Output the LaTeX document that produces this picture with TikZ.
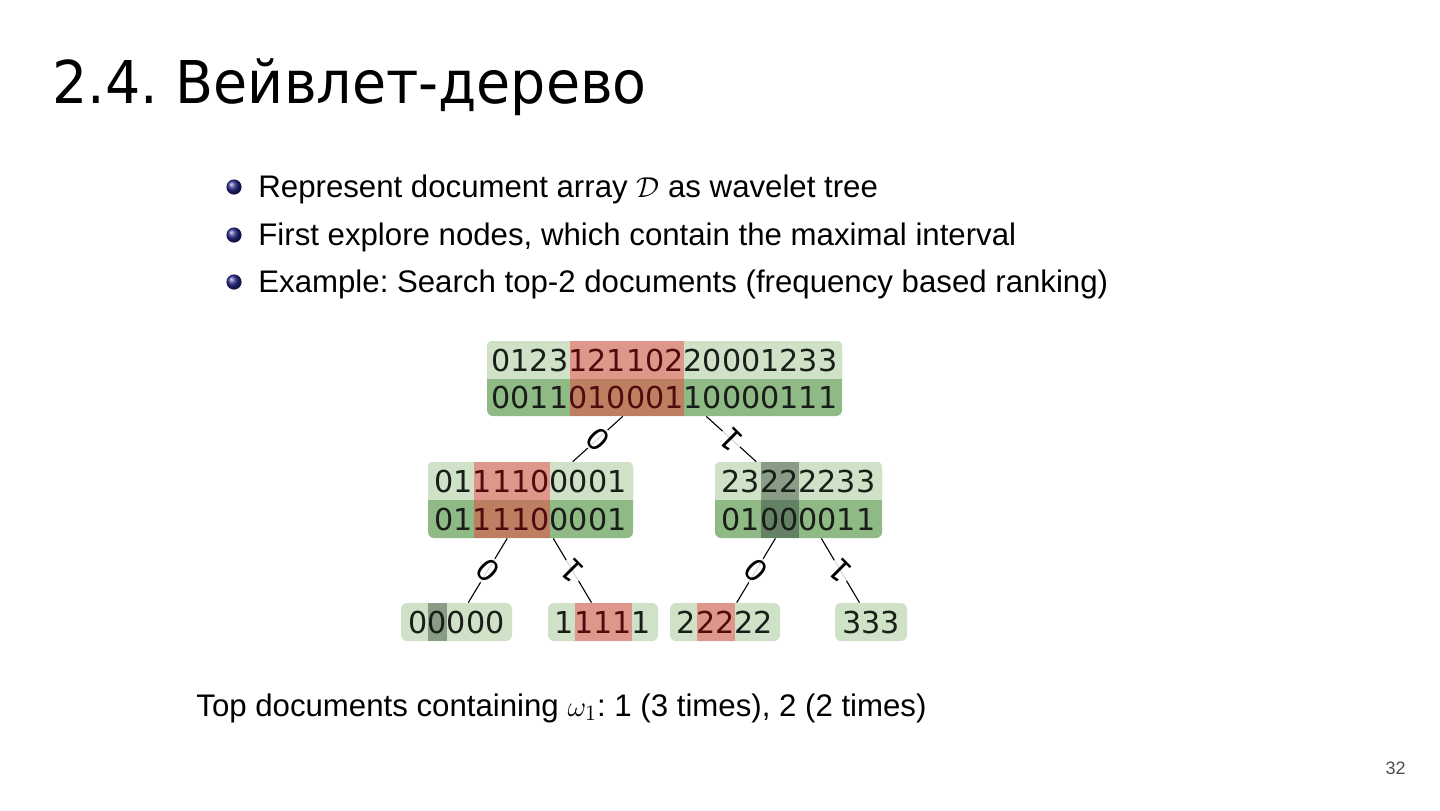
\documentclass[tikz,border=0pt]{standalone}
\usepackage{fontspec}
\setmainfont{Liberation Sans}
\newfontfamily\titlefont{DejaVu Sans}
\newfontfamily\digitfont{DejaVu Sans}
\usepackage{xcolor}
\usepackage{tikz}

\definecolor{lg}{RGB}{207,226,200}
\definecolor{dg}{RGB}{143,186,133}
\definecolor{rtop}{RGB}{223,150,139}
\definecolor{rbot}{RGB}{188,127,98}
\definecolor{gtop}{RGB}{136,156,134}
\definecolor{gbot}{RGB}{101,129,99}
\definecolor{ink}{RGB}{25,30,25}
\definecolor{dred}{RGB}{80,12,12}
\definecolor{bul}{RGB}{40,40,140}
\newcommand{\redd}[1]{\textcolor{dred}{#1}}
\frenchspacing

\begin{document}
\begin{tikzpicture}[x=0.5pt, y=-0.5pt,
    box/.style={rectangle, rounded corners=3pt, inner sep=0pt, fill=dg},
    leaf/.style={box, fill=lg, minimum height=19pt},
    digits/.style={inner sep=0pt, text=ink, font=\digitfont\fontsize{15.1}{18}\selectfont},
    bit/.style={rotate=135, fill=white, fill opacity=0.85, text opacity=1, inner sep=1pt, font=\digitfont\fontsize{15}{17}\selectfont},
    edge/.style={black, line width=0.55pt},
    bulletball/.style={circle, shading=ball, ball color=bul, minimum size=7.6pt, inner sep=0pt},
    bodytext/.style={anchor=base west, inner sep=0pt, font=\fontsize{15.6}{18}\selectfont}]
    \useasboundingbox (0,0) rectangle (1440,810);

    % Titel
    \node[anchor=base west, inner sep=0pt, font=\titlefont\fontsize{29.5}{34}\selectfont] (title) at (52,103) {\scalebox{0.94}[1]{2.4. Вейвлет-дерево}};

    % Aufzaehlung
    \node[bulletball] (d1) at (234,187) {};
    \node[bulletball] (d2) at (234,235) {};
    \node[bulletball] (d3) at (234,282) {};
    \node[bodytext] (t1) at (258,197) {Represent document array $\mathcal{D}$ as wavelet tree};
    \node[bodytext] (t2) at (258,245) {First explore nodes, which contain the maximal interval};
    \node[bodytext] (t3) at (258,292) {Example: Search top-2 documents (frequency based ranking)};

    % Baumknoten
    \node[box, minimum width=177.5pt, minimum height=37.5pt] (root) at (664.5,378.5) {};
    \node[box, minimum width=102.5pt, minimum height=38pt] (lft) at (530.5,500) {};
    \node[box, minimum width=83.5pt, minimum height=38pt] (rgt) at (798.5,500) {};
    \node[leaf, minimum width=55.5pt] (l00) at (456.5,622) {};
    \node[leaf, minimum width=55pt] (l01) at (603,622) {};
    \node[leaf, minimum width=55pt] (l10) at (725,622) {};
    \node[leaf, minimum width=36pt] (l11) at (871,622) {};

    % obere Zeile hell, Intervalle markiert
    \begin{scope}
        \clip[rounded corners=3pt] (root.north west) rectangle (root.south east);
        \fill[lg] (root.north west) rectangle (root.east);
        \fill[rtop] (569.5,341) rectangle (683.5,378.5);
        \fill[rbot] (569.5,378.5) rectangle (683.5,416);
    \end{scope}
    \begin{scope}
        \clip[rounded corners=3pt] (lft.north west) rectangle (lft.south east);
        \fill[lg] (lft.north west) rectangle (lft.east);
        \fill[rtop] (473.5,462) rectangle (549.5,500);
        \fill[rbot] (473.5,500) rectangle (549.5,538);
    \end{scope}
    \begin{scope}
        \clip[rounded corners=3pt] (rgt.north west) rectangle (rgt.south east);
        \fill[lg] (rgt.north west) rectangle (rgt.east);
        \fill[gtop] (760.5,462) rectangle (798.5,500);
        \fill[gbot] (760.5,500) rectangle (798.5,538);
    \end{scope}
    \fill[gtop] (428,603) rectangle (447,641);
    \fill[rtop] (574.5,603) rectangle (631.5,641);
    \fill[rtop] (696.5,603) rectangle (734.5,641);

    % Ziffern
    \node[digits] (root-a) at (664.5,360) {0123\redd{121102}20001233};
    \node[digits] (root-b) at (664.5,397.5) {0011\redd{010001}10000111};
    \node[digits] (lft-a) at (530.5,481) {01\redd{1110}0001};
    \node[digits] (lft-b) at (530.5,519) {01\redd{1110}0001};
    \node[digits] (rgt-a) at (798.5,481) {23222233};
    \node[digits] (rgt-b) at (798.5,519) {01000011};
    \node[digits] (l00-a) at (456.5,622) {00000};
    \node[digits] (l01-a) at (603,622) {1\redd{111}1};
    \node[digits] (l10-a) at (725,622) {2\redd{22}22};
    \node[digits] (l11-a) at (871,622) {333};

    % Kanten
    \draw[edge] (root) -- node[bit] {0} (lft);
    \draw[edge] (root) -- node[bit] {1} (rgt);
    \draw[edge] (lft) -- node[bit] {0} (l00);
    \draw[edge] (lft) -- node[bit] {1} (l01);
    \draw[edge] (rgt) -- node[bit] {0} (l10);
    \draw[edge] (rgt) -- node[bit] {1} (l11);

    % Ergebnis
    \node[bodytext] (res) at (196,716) {Top documents containing $\omega_1$: 1 (3 times), 2 (2 times)};

    % Seitenzahl
    \node[anchor=base east, inner sep=0pt, text=black!70, font=\fontsize{9}{11}\selectfont] (pg) at (1406,774) {32};
\end{tikzpicture}
\end{document}
